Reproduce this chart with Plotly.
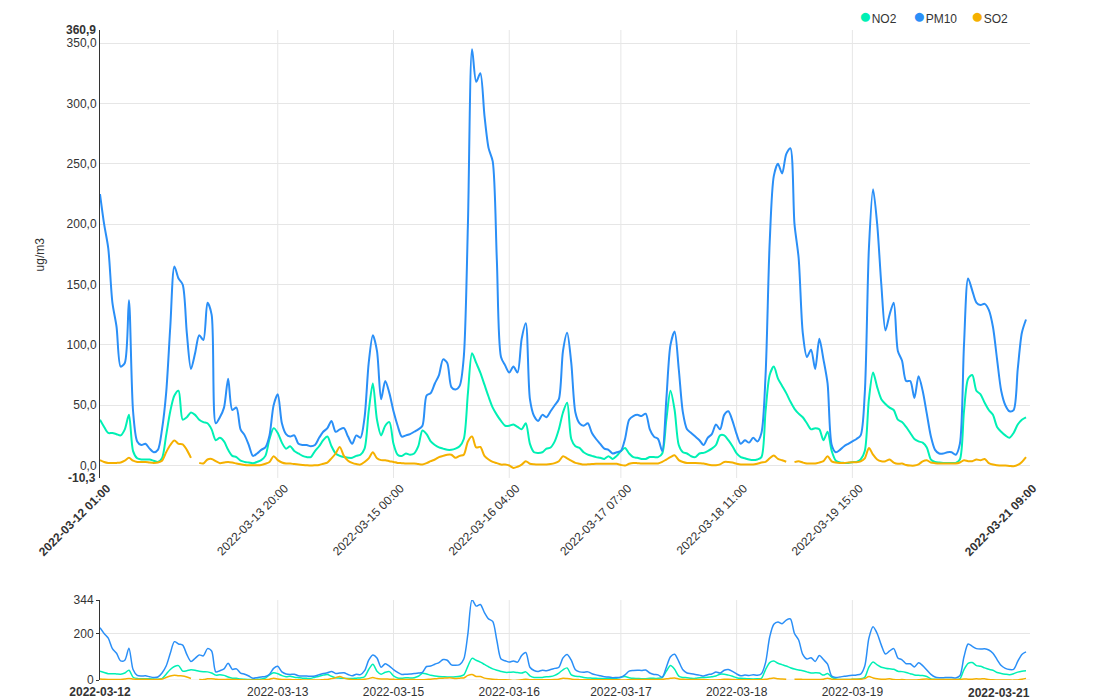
import pandas as pd
import plotly.graph_objects as go

times = pd.date_range("2022-03-12 01:00", periods=225, freq="h")

pm10 = [225, 200, 180, 135, 115, 82, 85, 137, 45, 20,
        17, 18, 14, 11, 13, 30, 60, 115, 165, 155,
        150, 110, 80, 93, 108, 104, 135, 125, 35, 40,
        48, 72, 46, 48, 30, 25, 17, 8, 10, 13,
        15, 25, 50, 59, 35, 26, 24, 25, 18, 17,
        17, 16, 17, 23, 28, 31, 37, 28, 30, 31,
        24, 18, 25, 23, 40, 85, 108, 95, 55, 70,
        60, 45, 33, 24, 25, 26, 28, 30, 33, 58,
        60, 68, 75, 88, 85, 65, 63, 66, 90, 200,
        345, 318, 325, 290, 263, 252, 170, 90, 83, 77,
        82, 77, 105, 118, 55, 41, 37, 42, 40, 45,
        50, 55, 95, 110, 85, 44, 35, 33, 35, 27,
        22, 18, 14, 13, 10, 11, 12, 22, 38, 41,
        42, 41, 43, 30, 24, 22, 12, 55, 100, 111,
        80, 44, 30, 27, 24, 21, 17, 23, 26, 34,
        30, 42, 45, 37, 26, 18, 21, 19, 23, 20,
        27, 75, 185, 240, 250, 242, 258, 263, 200, 172,
        110, 90, 96, 80, 105, 88, 68, 17, 11, 13,
        16, 18, 20, 22, 25, 60, 180, 229, 200, 150,
        112, 125, 135, 95, 87, 70, 70, 56, 74, 62,
        43, 24, 13, 10, 10, 11, 11, 9, 18, 100,
        155, 145, 135, 133, 134, 129, 115, 88, 62, 50,
        45, 46, 80, 110, 121]

no2 = [38, 32, 27, 27, 26, 25, 30, 42, 12, 6,
       5, 5, 5, 4, 3, 6, 25, 45, 58, 62,
       38, 40, 44, 42, 38, 36, 35, 30, 21, 23,
       20, 13, 8, 7, 4, 3, 2.5, 2, 3, 4.5,
       8, 22, 31, 27, 19, 14, 16, 12, 10, 8,
       7, 7, 12, 16, 21, 24, 16, 10, 8, 7,
       6.5, 6.4, 8, 9, 14, 45, 68, 38, 25, 33,
       36, 18, 9, 8, 10, 9, 10, 16, 29, 26,
       20, 17, 15, 14, 13, 13, 14, 16, 22, 60,
       93, 85, 77, 67, 57, 48, 42, 37, 33, 33,
       34, 32, 30, 35, 18, 11, 10.5, 11, 14, 15,
       20, 30, 44, 52, 22, 16, 14.6, 11, 9, 8,
       7, 6.4, 5.5, 7.7, 5.5, 8, 12, 14.6, 10, 7,
       6.4, 5.5, 5.5, 7, 7, 7, 10, 38, 62, 46,
       17, 11, 10, 7.7, 7, 10, 10.5, 12, 14, 17,
       25, 25, 21, 16, 10, 7, 6, 5, 4.5, 5,
       7, 45, 75, 82, 72, 66, 60, 53, 47, 43,
       40, 35, 30, 31, 30, 21, 28, 12, 4, 2.5,
       2.2, 2.2, 2.8, 3, 5, 12, 55, 77, 65, 55,
       51, 48, 46, 38, 36, 32, 27, 22, 20, 19,
       15, 5, 3, 2.5, 2.2, 2.2, 2.2, 2.2, 5, 45,
       72, 75, 62, 59, 52, 46, 42, 32, 28, 25,
       23, 27, 34, 38, 40]

so2 = [4.5, 3, 2.2, 2.2, 2.2, 2.5, 4, 6.4, 4, 3,
       3, 3, 2.5, 2.2, 2.5, 4, 11, 17, 20.7, 18,
       17.5, 13, 6.4, None, 2.2, 1.7, 5, 5.5, 3.6, 2,
       2.5, 3, 2.5, 1.7, 1, 0.5, 0.3, 0.3, 0.3, 0.5,
       1.5, 3, 7.7, 4.5, 2.5, 1.7, 1.7, 1.2, 0.8, 0.5,
       0.2, 0, 0.2, 0.5, 1.5, 2.5, 6, 10, 15.4, 8,
       4, 2.2, 1.2, 0.8, 3, 6, 11, 6, 4.5, 4.4,
       3.6, 3, 2.2, 2, 1.7, 1.7, 1.7, 1.2, 0.8, 2,
       3.6, 5, 7, 8, 9, 9, 6.4, 8, 9, 20,
       24, 15, 15.4, 8, 5, 3, 2, 0.8, 0.8, 0,
       -2, -1, 0.8, 3.6, 1.5, 1, 0.8, 0.8, 0.8, 1.2,
       2, 3.6, 7.7, 6, 4, 2.2, 1.5, 0.8, 1, 1.2,
       1.4, 1.4, 1.4, 1.4, 1.4, 1.4, 0.5, 0, 1.5, 2.2,
       2, 1.7, 1.7, 1.7, 1.7, 1.7, 3, 5, 7, 8.5,
       4.5, 3, 2.2, 2.2, 2.2, 2, 1.7, 0.8, 0.3, 0.3,
       1, 3, 3, 2.5, 1.5, 0.8, 0.8, 0.8, 0.8, 1.5,
       2.5, 3, 6, 8.3, 5.5, 4.4, 3.2, None, 2.8, 3.6,
       2.5, 1.7, 1.7, 1.7, 2.5, 3.6, 7.7, 3.5, 2.5, 2.2,
       2.2, 2.5, 2.8, 2.8, 3.5, 6, 14.6, 9, 5, 3.6,
       3.6, 5, 2.5, 1.4, 1.7, 0.5, 0, 0, 1, 3.5,
       4.4, 2.5, 2, 1.7, 1.7, 1.7, 1.7, 1.7, 2.5, 4.4,
       3.6, 3.6, 5, 4.4, 5.5, 2, 0.8, 0.3, 0, 0,
       -0.3, -0.5, 0.5, 3, 7]

series_names = ["NO2", "PM10", "SO2"]
series_colors = ["#00F0B4", "#2A8FF7", "#F5B000"]

tick_times = ["2022-03-12 01:00", "2022-03-13 20:00", "2022-03-15 00:00",
              "2022-03-16 04:00", "2022-03-17 07:00", "2022-03-18 11:00",
              "2022-03-19 15:00", "2022-03-21 09:00"]
y_ticks = [0, 50, 100, 150, 200, 250, 300, 350]
y_min, y_max = -10.3, 360.9
nav_ticks = [0, 200, 344]

font_fam = "Arial, Liberation Sans, sans-serif"
txt = "#333333"
grid = "#e6e6e6"

fig = go.Figure()
data = [no2, pm10, so2]
for name, col, vals in zip(series_names, series_colors, data):
    fig.add_trace(go.Scatter(x=times, y=vals, mode="lines", name=name,
                             line=dict(color=col, width=2, shape="spline", smoothing=0.8),
                             showlegend=False, xaxis="x", yaxis="y"))
for name, col, vals in zip(series_names, series_colors, data):
    fig.add_trace(go.Scatter(x=times, y=vals, mode="lines", name=name,
                             line=dict(color=col, width=1.5, shape="spline", smoothing=0.8),
                             showlegend=False, xaxis="x2", yaxis="y2", hoverinfo="skip"))

t_start = pd.Timestamp(tick_times[0])
t_end = pd.Timestamp(tick_times[-1]) + pd.Timedelta(minutes=58)

def lab(s, bold):
    return f"<b>{s}</b>" if bold else s

main_text = [lab(t, i in (0, len(tick_times) - 1)) for i, t in enumerate(tick_times)]
nav_text = [lab(t[:10], i in (0, len(tick_times) - 1)) for i, t in enumerate(tick_times)]
nav_text[-1] = ""

shapes = []
for t in tick_times[1:-1]:
    shapes.append(dict(type="line", xref="x", yref="y domain", x0=t, x1=t, y0=0, y1=1,
                       line=dict(color=grid, width=1), layer="below"))
    shapes.append(dict(type="line", xref="x2", yref="y2 domain", x0=t, x1=t, y0=0, y1=1,
                       line=dict(color=grid, width=1), layer="below"))
for v in nav_ticks[:2]:
    shapes.append(dict(type="line", xref="x2 domain", yref="y2", x0=0, x1=1, y0=v, y1=v,
                       line=dict(color=grid, width=1), layer="below"))

PLOT_W, PLOT_H, L, T = 930, 650, 100, 30
annotations = [
    dict(text="<b>360,9</b>", xref="paper", x=0, xanchor="right", xshift=-2,
         yref="y", y=y_max, yanchor="middle", showarrow=False,
         font=dict(size=12, color=txt, family=font_fam)),
    dict(text="<b>-10,3</b>", xref="paper", x=0, xanchor="right", xshift=-2,
         yref="y", y=y_min, yanchor="middle", showarrow=False,
         font=dict(size=12, color=txt, family=font_fam)),
    dict(text="ug/m3", xref="paper", x=-0.064, xanchor="center",
         yref="y domain", y=0.5, yanchor="middle", textangle=-90, showarrow=False,
         font=dict(size=12, color=txt, family=font_fam)),
    dict(text="<b>2022-03-21</b>", xref="x2", x=tick_times[-1], xanchor="right", xshift=6,
         yref="y2 domain", y=0, yanchor="top", yshift=-4, showarrow=False,
         font=dict(size=12, color=txt, family=font_fam)),
]
# legend drawn as text entries with coloured circle glyphs
legend_left_px = [857, 911, 969]
for name, col, px in zip(series_names, series_colors, legend_left_px):
    annotations.append(dict(
        text=f"<span style='color:{col};font-size:21px'>●</span>{name}",
        xref="paper", x=(px - L) / PLOT_W, xanchor="left",
        yref="paper", y=(PLOT_H + T - 15) / PLOT_H, yanchor="middle",
        showarrow=False, font=dict(size=12, color=txt, family=font_fam)))

fig.update_layout(
    width=1110, height=700,
    margin=dict(l=L, r=80, t=T, b=20, autoexpand=False),
    paper_bgcolor="white", plot_bgcolor="white",
    font=dict(family=font_fam, size=12, color=txt),
    separators=",.",
    showlegend=False,
    xaxis=dict(domain=[0, 1], anchor="y", type="date", range=[t_start, t_end],
               tickmode="array", tickvals=tick_times, ticktext=main_text,
               tickangle=-45, showgrid=False, showline=False, zeroline=False,
               ticks="", ticklabelshift=7, tickfont=dict(size=12, color=txt)),
    yaxis=dict(domain=[0.3108, 1], anchor="x", range=[y_min, y_max],
               tickmode="array", tickvals=y_ticks,
               ticktext=[f"{v},0" for v in y_ticks],
               showgrid=True, gridcolor=grid, zeroline=False,
               showline=True, linecolor="#333333", linewidth=1,
               ticks="", tickfont=dict(size=12, color=txt)),
    xaxis2=dict(domain=[0, 1], anchor="y2", type="date", range=[t_start, t_end],
                tickmode="array", tickvals=tick_times, ticktext=nav_text,
                tickangle=0, showgrid=False, showline=False, zeroline=False,
                ticks="", ticklabelstandoff=3, tickfont=dict(size=12, color=txt)),
    yaxis2=dict(domain=[0, 0.123], anchor="x2", range=[0, nav_ticks[-1]],
                tickmode="array", tickvals=nav_ticks,
                ticktext=[str(v) for v in nav_ticks],
                showgrid=False, zeroline=False,
                showline=True, linecolor="#333333", linewidth=1,
                ticks="outside", ticklen=3, tickcolor="#333333",
                tickfont=dict(size=12, color=txt)),
    shapes=shapes,
    annotations=annotations,
)

fig.write_html("out.html")
